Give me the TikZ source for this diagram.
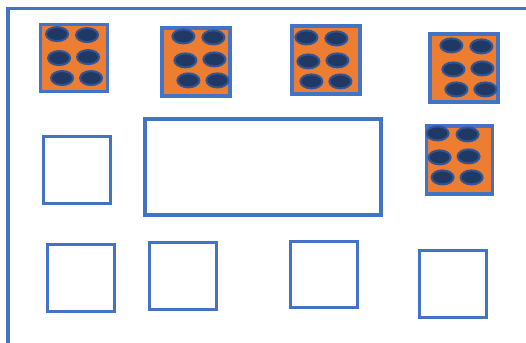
\documentclass[tikz,border=0pt]{standalone}
\usepackage{tikz}
\usetikzlibrary{calc}
\definecolor{tenblue}{HTML}{4472C4}
\definecolor{tenorange}{HTML}{ED7D31}
\definecolor{pipnavy}{HTML}{203864}
\definecolor{piprim}{HTML}{2F5597}

\begin{document}
\begin{tikzpicture}[x=0.75pt,y=-0.75pt,
  cell/.style={draw=tenblue,line width=2.4pt,minimum width=50pt,minimum height=50pt,inner sep=0pt},
  full/.style={cell,fill=tenorange},
  pip/.style={draw=piprim,line width=1.5pt,fill=pipnavy}]
  \useasboundingbox (0,0) rectangle (526,343);
  % frame
  \draw[tenblue,line width=2.4pt] (526,8.5) -- (8,8.5) -- (8,343);
  % top row
  \node[full] (d1) at (74,58) {};
  \node[full,minimum width=51pt,minimum height=51pt] (d2) at (196,62) {};
  \node[full,minimum width=51pt,minimum height=51pt] (d3) at (326,60) {};
  \node[full,minimum width=51pt,minimum height=51pt] (d4) at (464,68) {};
  % middle row
  \node[cell] (e1) at (77,170) {};
  \node[cell,minimum width=177pt,minimum height=72pt] (wide) at (263,167) {};
  \node[full,minimum height=51pt] (d5) at (459.5,160) {};
  % bottom row
  \node[cell] (e2) at (81,278) {};
  \node[cell] (e3) at (183,276) {};
  \node[cell] (e4) at (324,274.5) {};
  \node[cell] (e5) at (453,284) {};
  % six dots in each filled box
  \foreach \bx/\ax/\by in {d1/18/11,d2/23/10,d3/16/13,d4/23/13,d5/13/9}
    \foreach \ox/\oy in {0/0,30/1,2/24,31/23,5/44,34/44}
      \draw[pip] ($(\bx.north west)+(\ax+\ox,\by+\oy)$) ellipse [x radius=11,y radius=7];
\end{tikzpicture}
\end{document}
